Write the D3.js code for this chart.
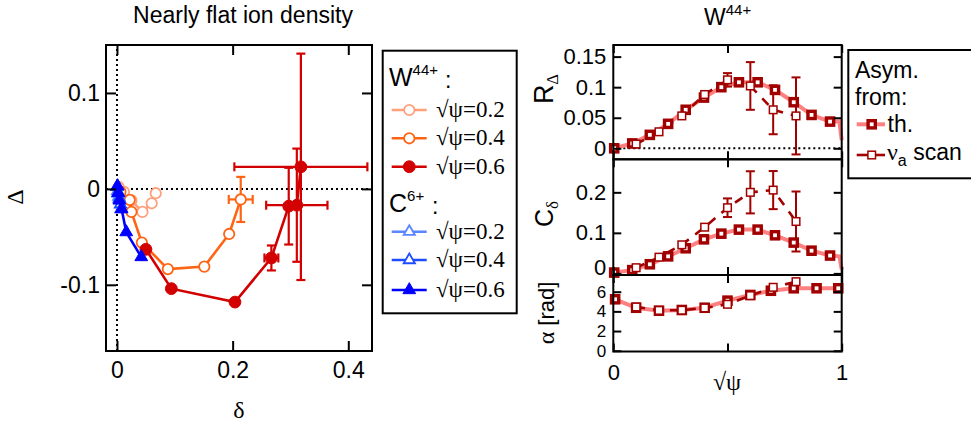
<!DOCTYPE html>
<html><head><meta charset="utf-8">
<script src="https://cdn.jsdelivr.net/npm/d3@7/dist/d3.min.js"></script>
<style>body{margin:0;background:#fff;overflow:hidden}</style>
</head><body><svg id="c" width="971" height="427"></svg>
<script>
// ---------- data: left panel (delta, Delta) ----------
const w02X = [0.003, 0.012, 0.025, 0.044, 0.060, 0.067];
const w02Y = [0.002, -0.003, -0.012, -0.024, -0.015, -0.0045];
const w04X = [0.006, 0.022, 0.025, 0.043, 0.088, 0.151, 0.194, 0.214];
const w04Y = [-0.003, -0.0115, -0.024, -0.056, -0.0836, -0.081, -0.047, -0.011];
const w04Xerr = [0, 0, 0, 0, 0, 0, 0, 0.0207];
const w04Yerr = [0, 0, 0, 0, 0, 0, 0, 0.0235];
const w06X = [0.050, 0.094, 0.204, 0.267, 0.297, 0.311, 0.318];
const w06Y = [-0.063, -0.104, -0.118, -0.072, -0.018, -0.017, 0.023];
const w06Xerr = [0, 0, 0, 0.012, 0, 0.053, 0.115];
const w06Yerr = [0, 0, 0, 0.013, 0.040, 0.059, 0.118];
const c02X = [0.000, 0.001, 0.002, 0.003];
const c02Y = [0.002, -0.002, -0.005, -0.008];
const c04X = [0.000, 0.002, 0.004, 0.006, 0.007];
const c04Y = [0.002, -0.004, -0.010, -0.016, -0.021];
const c06X = [0.001, 0.002, 0.004, 0.008, 0.016, 0.042];
const c06Y = [0.003, -0.004, -0.012, -0.021, -0.045, -0.071];
const leftXTicks = [0, 0.2, 0.4];
const leftXTickLabels = ["0", "0.2", "0.4"];
const leftYTicks = [-0.1, 0, 0.1];
const leftYTickLabels = ["-0.1", "0", "0.1"];

// ---------- data: right panels (sqrt psi) ----------
const thX = [0.004, 0.083, 0.16, 0.24, 0.317, 0.397, 0.473, 0.55, 0.632, 0.708, 0.79, 0.868, 0.949];
const rTh = [0.0, 0.008, 0.022, 0.040, 0.063, 0.083, 0.100, 0.108, 0.108, 0.0956, 0.0754, 0.0546, 0.0437];
const rThTailX = [0.99, 1.0];
const rThTailY = [0.044, 0.013];
const cTh = [0.002, 0.008, 0.0225, 0.042, 0.062, 0.084, 0.098, 0.108, 0.108, 0.094, 0.076, 0.056, 0.044];
const cThTailX = [0.99, 1.0];
const cThTailY = [0.042, 0.01];
const aThX = [0.008, 0.1, 0.2, 0.3, 0.4, 0.5, 0.6, 0.69, 0.79, 0.89, 0.985];
const aTh = [5.23, 4.37, 4.07, 4.14, 4.37, 5.09, 5.67, 6.10, 6.35, 6.35, 6.35];
const nuX = [0.1, 0.2, 0.3, 0.4, 0.5, 0.6, 0.7, 0.8];
const rNu = [0.007, 0.027, 0.053, 0.088, 0.112, 0.102, 0.063, 0.053];
const rNuErr = [0, 0, 0, 0, 0.011, 0.039, 0.040, 0.063];
const cNu = [0.014, 0.040, 0.0705, 0.114, 0.162, 0.200, 0.2055, 0.128];
const cNuErr = [0, 0, 0, 0, 0.023, 0.052, 0.047, 0.074];
const aNu = [4.45, 4.10, 4.12, 4.35, 4.72, 5.60, 6.45, 7.02];
const rTicks = [0, 0.05, 0.1, 0.15];
const rTickLabels = ["0", "0.05", "0.1", "0.15"];
const cTicks = [0, 0.1, 0.2];
const cTickLabels = ["0", "0.1", "0.2"];
const aTicks = [0, 2, 4, 6];
const aTickLabels = ["0", "2", "4", "6"];
const rightXTicks = [0, 0.5, 1];
const rightXTickLabels = ["0", "", "1"];

// ---------- styles ----------
const SANS = "'Liberation Sans', Arial, sans-serif";
const SERIF = "'Liberation Serif', 'Times New Roman', serif";
const colW02 = "#ffa07c", colW04 = "#ff6414", colW06 = "#d20000";
const colC02 = "#5a86ff", colC04 = "#1e4cff", colC06 = "#0000ff";
const colTh = "#ff8080", colThM = "#a00000", colNu = "#a00000";

const svg = d3.select("#c");

function frameAndAxes(g, x, y, xt, xl, yt, yl, tick, pad, showX, fs, fsY, nudge) {
  const [x0, x1] = x.range(), [y0, y1] = y.range();
  const fmtX = d => xl[xt.indexOf(d)], fmtY = d => yl[yt.indexOf(d)];
  g.append("g").attr("transform", `translate(0,${y0})`)
    .call(d3.axisBottom(x).tickValues(xt).tickSize(-tick).tickPadding(pad.x).tickFormat(showX ? fmtX : () => ""));
  g.append("g").attr("transform", `translate(0,${y1})`)
    .call(d3.axisTop(x).tickValues(xt).tickSize(-tick).tickFormat(() => ""));
  const ay = g.append("g").attr("transform", `translate(${x0},0)`)
    .call(d3.axisLeft(y).tickValues(yt).tickSize(-tick).tickPadding(pad.y).tickFormat(fmtY));
  g.append("g").attr("transform", `translate(${x1},0)`)
    .call(d3.axisRight(y).tickValues(yt).tickSize(-tick).tickFormat(() => ""));
  g.selectAll(".domain").remove();
  g.selectAll(".tick line").attr("stroke", "#000").attr("stroke-width", 2);
  g.selectAll(".tick text").attr("font-family", SANS).attr("font-size", fs).attr("fill", "#000");
  ay.selectAll(".tick text").attr("font-size", fsY || fs)
    .attr("y", d => (nudge && nudge[d]) ? nudge[d] : 0);
  g.append("rect").attr("x", x0).attr("y", y1).attr("width", x1 - x0).attr("height", y0 - y1)
    .attr("fill", "none").attr("stroke", "#000").attr("stroke-width", 2);
}

// ================= LEFT PANEL =================
const xL = d3.scaleLinear().domain([-0.019, 0.441]).range([106, 372]);
const yL = d3.scaleLinear().domain([-0.169, 0.150]).range([351, 45]);
const gL = svg.append("g");

gL.append("line").attr("x1", xL(-0.019)).attr("x2", xL(0.441)).attr("y1", yL(0)).attr("y2", yL(0))
  .attr("stroke", "#000").attr("stroke-width", 2).attr("stroke-dasharray", "2,3");
gL.append("line").attr("x1", xL(0)).attr("x2", xL(0)).attr("y1", yL(-0.169)).attr("y2", yL(0.150))
  .attr("stroke", "#000").attr("stroke-width", 2).attr("stroke-dasharray", "2,3");

function leftSeries(X, Y, col, marker, filled, Xe, Ye) {
  const pts = X.map((d, i) => ({x: d, y: Y[i], xe: Xe ? Xe[i] : 0, ye: Ye ? Ye[i] : 0}));
  const g = gL.append("g");
  g.append("path").datum(pts).attr("fill", "none").attr("stroke", col).attr("stroke-width", 2.6)
    .attr("d", d3.line().x(d => xL(d.x)).y(d => yL(d.y)));
  const cap = 4.5;
  pts.forEach(p => {
    if (p.ye > 0) {
      g.append("line").attr("x1", xL(p.x)).attr("x2", xL(p.x)).attr("y1", yL(p.y - p.ye)).attr("y2", yL(p.y + p.ye))
        .attr("stroke", col).attr("stroke-width", 2.2);
      [p.y - p.ye, p.y + p.ye].forEach(v => g.append("line").attr("x1", xL(p.x) - cap).attr("x2", xL(p.x) + cap)
        .attr("y1", yL(v)).attr("y2", yL(v)).attr("stroke", col).attr("stroke-width", 2.2));
    }
    if (p.xe > 0) {
      g.append("line").attr("y1", yL(p.y)).attr("y2", yL(p.y)).attr("x1", xL(p.x - p.xe)).attr("x2", xL(p.x + p.xe))
        .attr("stroke", col).attr("stroke-width", 2.2);
      [p.x - p.xe, p.x + p.xe].forEach(v => g.append("line").attr("y1", yL(p.y) - cap).attr("y2", yL(p.y) + cap)
        .attr("x1", xL(v)).attr("x2", xL(v)).attr("stroke", col).attr("stroke-width", 2.2));
    }
  });
  const sym = marker === "circle" ? d3.symbol(d3.symbolCircle, filled ? 110 : 85) : d3.symbol(d3.symbolTriangle, filled ? 70 : 55);
  g.selectAll("path.m").data(pts).join("path").attr("class", "m")
    .attr("transform", d => `translate(${xL(d.x)},${yL(d.y)})`).attr("d", sym)
    .attr("fill", filled ? col : "#fff").attr("stroke", col).attr("stroke-width", filled ? 1 : 1.8);
}
leftSeries(w02X, w02Y, colW02, "circle", false);
leftSeries(w04X, w04Y, colW04, "circle", false, w04Xerr, w04Yerr);
leftSeries(w06X, w06Y, colW06, "circle", true, w06Xerr, w06Yerr);
leftSeries(c02X, c02Y, colC02, "tri", false);
leftSeries(c04X, c04Y, colC04, "tri", false);
leftSeries(c06X, c06Y, colC06, "tri", true);

frameAndAxes(gL, xL, yL, leftXTicks, leftXTickLabels, leftYTicks, leftYTickLabels, 10, {x: 11, y: 6}, true, 23);

svg.append("text").attr("x", 243).attr("y", 23).attr("text-anchor", "middle")
  .attr("font-family", SANS).attr("font-size", 23).text("Nearly flat ion density");
svg.append("text").attr("x", 239).attr("y", 418).attr("text-anchor", "middle")
  .attr("font-family", SERIF).attr("font-size", 24).text("δ");
svg.append("text").attr("transform", "translate(23,197) rotate(-90)").attr("text-anchor", "middle")
  .attr("font-family", SERIF).attr("font-size", 24).text("Δ");

// ---------- left legend ----------
const lg = svg.append("g");
lg.append("rect").attr("x", 382.7).attr("y", 50.7).attr("width", 134).attr("height", 262.6)
  .attr("fill", "#fff").attr("stroke", "#000").attr("stroke-width", 2);
function header(y, main, sup, colonX) {
  const t = lg.append("text").attr("x", 389).attr("y", y).attr("font-family", SANS).attr("font-size", 25);
  t.append("tspan").text(main);
  t.append("tspan").attr("dy", -11).attr("font-size", 15).text(sup);
  lg.append("text").attr("x", colonX).attr("y", y + 2).attr("font-family", SANS).attr("font-size", 23).text(":");
}
header(86, "W", "44+", 445);
header(212, "C", "6+", 432);
const legItems = [
  {y: 110, col: colW02, m: "circle", f: false, lab: "√ψ=0.2"},
  {y: 138.3, col: colW04, m: "circle", f: false, lab: "√ψ=0.4"},
  {y: 166.7, col: colW06, m: "circle", f: true, lab: "√ψ=0.6"},
  {y: 231.7, col: colC02, m: "tri", f: false, lab: "√ψ=0.2"},
  {y: 260, col: colC04, m: "tri", f: false, lab: "√ψ=0.4"},
  {y: 290, col: colC06, m: "tri", f: true, lab: "√ψ=0.6"}
];
legItems.forEach(it => {
  lg.append("line").attr("x1", 391.7).attr("x2", 426.7).attr("y1", it.y).attr("y2", it.y)
    .attr("stroke", it.col).attr("stroke-width", 2.6);
  const sym = it.m === "circle" ? d3.symbol(d3.symbolCircle, it.f ? 110 : 85) : d3.symbol(d3.symbolTriangle, it.f ? 70 : 55);
  lg.append("path").attr("transform", `translate(409.3,${it.y})`).attr("d", sym)
    .attr("fill", it.f ? it.col : "#fff").attr("stroke", it.col).attr("stroke-width", it.f ? 1 : 1.8);
  lg.append("text").attr("x", 436).attr("y", it.y + 7).attr("font-family", SERIF).attr("font-size", 23).text(it.lab);
});

// ================= RIGHT PANELS =================
const xR = d3.scaleLinear().domain([0, 1]).range([613.3, 841.7]);
const panels = [
  {id: "R", dom: [-0.018, 0.169], range: [159.3, 45], th: rTh, thX: thX, tailX: rThTailX, tailY: rThTailY,
    nu: rNu, nuErr: rNuErr, ticks: rTicks, labels: rTickLabels, zero: true, fsY: 22, nudge: null},
  {id: "C", dom: [-0.004, 0.2815], range: [275, 159.3], th: cTh, thX: thX, tailX: cThTailX, tailY: cThTailY,
    nu: cNu, nuErr: cNuErr, ticks: cTicks, labels: cTickLabels, zero: false, fsY: 22, nudge: {0: -6}},
  {id: "A", dom: [-0.08, 7.7], range: [351.5, 275], th: aTh, thX: aThX, tailX: [], tailY: [],
    nu: aNu, nuErr: null, ticks: aTicks, labels: aTickLabels, zero: false, fsY: 17, nudge: null}
];
const gR = svg.append("g");
panels.forEach((p, pi) => {
  const y = d3.scaleLinear().domain(p.dom).range(p.range);
  const g = gR.append("g");
  if (p.zero) {
    g.append("line").attr("x1", xR(0)).attr("x2", xR(1)).attr("y1", y(0)).attr("y2", y(0))
      .attr("stroke", "#000").attr("stroke-width", 2).attr("stroke-dasharray", "2,3");
  }
  const thPts = p.thX.map((d, i) => [d, p.th[i]]).concat(p.tailX.map((d, i) => [d, p.tailY[i]]));
  g.append("path").datum(thPts).attr("fill", "none").attr("stroke", colTh).attr("stroke-width", 4)
    .attr("d", d3.line().x(d => xR(d[0])).y(d => y(d[1])));
  const nuPts = nuX.map((d, i) => ({x: d, y: p.nu[i], e: p.nuErr ? p.nuErr[i] : 0}));
  g.append("path").datum(nuPts).attr("fill", "none").attr("stroke", colNu).attr("stroke-width", 2.6)
    .attr("stroke-dasharray", "9,8").attr("d", d3.line().x(d => xR(d.x)).y(d => y(d.y)));
  nuPts.filter(d => d.e > 0).forEach(d => {
    const cx = xR(d.x);
    g.append("line").attr("x1", cx).attr("x2", cx).attr("y1", y(d.y - d.e)).attr("y2", y(d.y + d.e))
      .attr("stroke", colNu).attr("stroke-width", 2);
    [d.y - d.e, d.y + d.e].forEach(v => g.append("line").attr("x1", cx - 4.5).attr("x2", cx + 4.5)
      .attr("y1", y(v)).attr("y2", y(v)).attr("stroke", colNu).attr("stroke-width", 2));
  });
  g.selectAll("rect.th").data(p.thX.map((d, i) => [d, p.th[i]])).join("rect").attr("class", "th")
    .attr("x", d => xR(d[0]) - 3.6).attr("y", d => y(d[1]) - 3.6).attr("width", 7.2).attr("height", 7.2)
    .attr("fill", "#fff").attr("stroke", colThM).attr("stroke-width", 3.4);
  g.selectAll("rect.nu").data(nuPts).join("rect").attr("class", "nu")
    .attr("x", d => xR(d.x) - 3.8).attr("y", d => y(d.y) - 3.8).attr("width", 7.6).attr("height", 7.6)
    .attr("fill", "#fff").attr("stroke", colNu).attr("stroke-width", 1.5);
  frameAndAxes(g, xR, y, rightXTicks, rightXTickLabels, p.ticks, p.labels, 8, {x: 13, y: 7}, pi === 2, 22, p.fsY, p.nudge);
});

svg.append("text").attr("x", 704).attr("y", 25).attr("font-family", SANS).attr("font-size", 23)
  .call(t => { t.append("tspan").text("W"); t.append("tspan").attr("dy", -10).attr("font-size", 15).text("44+"); });
svg.append("text").attr("x", 727).attr("y", 390).attr("text-anchor", "middle")
  .attr("font-family", SERIF).attr("font-size", 24).text("√ψ");

svg.append("text").attr("transform", "translate(553,89) rotate(-90)").attr("text-anchor", "middle")
  .attr("font-family", SANS).attr("font-size", 27)
  .call(t => { t.append("tspan").text("R"); t.append("tspan").attr("dy", 5).attr("font-family", SERIF).attr("font-size", 16).text("Δ"); });
svg.append("text").attr("transform", "translate(553,214) rotate(-90)").attr("text-anchor", "middle")
  .attr("font-family", SANS).attr("font-size", 25)
  .call(t => { t.append("tspan").text("C"); t.append("tspan").attr("dy", 5).attr("font-family", SERIF).attr("font-size", 17).text("δ"); });
svg.append("text").attr("transform", "translate(554,313) rotate(-90)").attr("text-anchor", "middle")
  .attr("font-size", 22)
  .call(t => { t.append("tspan").attr("font-family", SERIF).attr("font-size", 24).text("α "); t.append("tspan").attr("font-family", SANS).text("[rad]"); });

// ---------- right legend ----------
const rg = svg.append("g");
rg.append("rect").attr("x", 848.3).attr("y", 50).attr("width", 130).attr("height", 128.3)
  .attr("fill", "#fff").attr("stroke", "#000").attr("stroke-width", 2);
rg.append("text").attr("x", 855).attr("y", 78.3).attr("font-family", SANS).attr("font-size", 23).text("Asym.");
rg.append("text").attr("x", 855).attr("y", 105).attr("font-family", SANS).attr("font-size", 23).text("from:");
rg.append("line").attr("x1", 856.7).attr("x2", 885).attr("y1", 124.3).attr("y2", 124.3).attr("stroke", colTh).attr("stroke-width", 4);
rg.append("rect").attr("x", 871.7 - 3.6).attr("y", 124.3 - 3.6).attr("width", 7.2).attr("height", 7.2)
  .attr("fill", "#fff").attr("stroke", colThM).attr("stroke-width", 3.4);
rg.append("text").attr("x", 887.5).attr("y", 131.7).attr("font-family", SANS).attr("font-size", 23).text("th.");
rg.append("line").attr("x1", 856.7).attr("x2", 885).attr("y1", 155).attr("y2", 155).attr("stroke", colNu).attr("stroke-width", 2.6);
rg.append("rect").attr("x", 871.7 - 3.8).attr("y", 155 - 3.8).attr("width", 7.6).attr("height", 7.6)
  .attr("fill", "#fff").attr("stroke", colNu).attr("stroke-width", 1.5);
rg.append("text").attr("x", 887).attr("y", 160).attr("font-size", 23)
  .call(t => {
    t.append("tspan").attr("font-family", SERIF).attr("font-size", 24).text("ν");
    t.append("tspan").attr("font-family", SANS).attr("font-size", 16).attr("dy", 6).text("a");
    t.append("tspan").attr("font-family", SANS).attr("dy", -6).text(" scan");
  });
</script>
</body></html>
